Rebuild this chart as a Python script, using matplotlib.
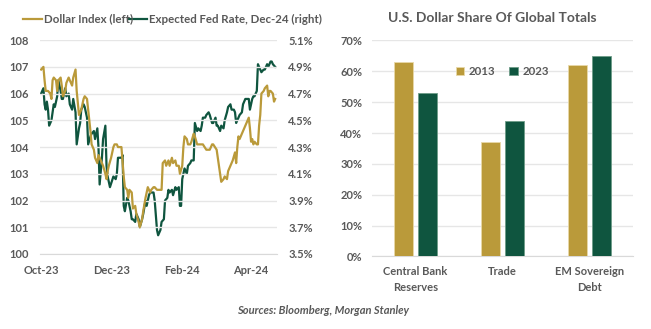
import numpy as np
import pandas as pd
import matplotlib
matplotlib.use("Agg")
import matplotlib.pyplot as plt
import matplotlib.dates as mdates
from matplotlib.ticker import FuncFormatter, MultipleLocator

plt.rcParams['font.family'] = ['Lato', 'DejaVu Sans']

GOLD = '#BA9A3A'
GREEN = '#0F553F'
GRAY = '#595959'
GRID = '#E6E6E6'

# Dollar Index (left axis), days since 2023-10-01
dxy_days = [0, 2, 3, 4, 6, 8, 9, 10, 11, 13, 14, 15, 17, 18, 19, 21, 22, 24, 25, 27,
            28, 30, 31, 33, 34, 35, 37, 38, 40, 41, 43, 44, 46, 47, 49, 50, 52, 54, 56, 57,
            58, 59, 61, 63, 64, 66, 67, 69, 70, 72, 73, 75, 76, 77, 79, 80, 82, 83, 85, 86,
            88, 89, 91, 92, 93, 95, 96, 98, 99, 101, 102, 104, 105, 106, 108, 109, 111, 112, 114, 115,
            117, 118, 120, 121, 123, 124, 125, 127, 128, 130, 131, 133, 134, 136, 138, 141, 144, 147, 149, 150,
            153, 154, 156, 157, 159, 160, 162, 163, 165, 166, 167, 169, 170, 171, 172, 173, 175, 176, 178, 179,
            181, 182, 183, 184, 185, 186, 188, 189, 190, 191, 192, 194, 195, 197, 198, 199, 200, 202, 203, 204]
dxy = [106.9, 107.0, 106.5, 106.1, 106.1, 106.0, 105.8, 106.5, 106.6, 106.5, 106.1, 106.5, 106.6, 106.3, 105.9, 106.1, 106.4, 106.6, 106.5, 106.3,
       106.6, 106.9, 106.1, 105.2, 105.3, 105.4, 105.8, 105.9, 105.8, 105.4, 104.6, 104.1, 103.9, 103.6, 103.4, 103.7, 103.5, 103.3, 103.0, 102.8,
       103.1, 103.3, 103.6, 104.0, 104.1, 104.1, 104.0, 104.0, 104.0, 102.9, 102.5, 102.4, 102.1, 102.4, 102.3, 101.7, 101.8, 101.5, 101.2, 101.0,
       101.3, 101.6, 102.1, 102.3, 102.5, 102.3, 102.4, 102.5, 102.5, 102.4, 102.4, 102.4, 102.4, 103.4, 103.5, 103.3, 103.5, 103.3, 103.6, 103.4,
       103.5, 103.3, 103.3, 103.0, 103.3, 104.0, 104.4, 104.3, 104.1, 104.1, 104.2, 104.5, 104.4, 104.1, 104.1, 104.1, 103.9, 103.9, 104.1, 104.1,
       103.9, 103.6, 103.0, 102.7, 102.8, 102.9, 102.8, 103.1, 103.3, 103.4, 103.5, 103.8, 103.4, 104.0, 104.4, 104.3, 104.5, 104.6, 104.8, 104.9,
       105.1, 104.7, 104.2, 104.3, 104.1, 104.2, 104.1, 104.1, 104.8, 105.2, 106.0, 106.1, 106.2, 106.3, 105.9, 106.1, 106.1, 106.0, 105.7, 105.8]

# Expected Fed rate for Dec-24 (right axis, %), days since 2023-10-01
fed_days = [0, 2, 3, 4, 5, 6, 7, 9, 11, 12, 14, 15, 17, 18, 19, 21, 22, 24, 25, 27,
            28, 30, 31, 33, 34, 35, 37, 38, 40, 41, 43, 44, 46, 47, 49, 50, 51, 53, 54, 56,
            57, 58, 60, 63, 65, 66, 67, 70, 71, 72, 73, 75, 76, 78, 79, 80, 82, 83, 85, 86,
            88, 89, 91, 92, 94, 95, 96, 98, 99, 101, 102, 104, 105, 107, 108, 110, 111, 112, 114, 115,
            117, 118, 120, 121, 122, 123, 124, 125, 127, 128, 130, 131, 133, 134, 136, 137, 139, 140, 141, 143,
            144, 146, 147, 149, 150, 152, 153, 154, 156, 157, 159, 160, 162, 163, 165, 166, 168, 169, 170, 172,
            173, 175, 176, 178, 179, 181, 182, 184, 185, 186, 188, 189, 190, 192, 194, 195, 197, 198, 200, 201,
            202, 204]
fed = [4.70, 4.74, 4.62, 4.58, 4.64, 4.58, 4.46, 4.50, 4.62, 4.60, 4.68, 4.80, 4.72, 4.66, 4.66, 4.74, 4.68, 4.70, 4.62, 4.58,
       4.66, 4.56, 4.32, 4.44, 4.48, 4.58, 4.62, 4.60, 4.52, 4.32, 4.38, 4.40, 4.42, 4.36, 4.44, 4.30, 4.02, 4.22, 4.36, 4.46,
       4.16, 4.08, 4.00, 4.08, 4.06, 4.10, 4.22, 4.22, 4.24, 3.86, 3.82, 3.92, 3.90, 3.82, 3.76, 3.76, 3.74, 3.80, 3.76, 3.70,
       3.76, 3.80, 3.90, 3.86, 3.94, 3.96, 3.96, 3.96, 3.90, 3.68, 3.64, 3.68, 3.74, 3.76, 3.90, 3.92, 3.98, 3.96, 3.98, 3.94,
       4.00, 3.98, 4.00, 3.86, 3.86, 4.06, 4.10, 4.14, 4.10, 4.16, 4.18, 4.20, 4.20, 4.48, 4.42, 4.44, 4.42, 4.46, 4.52, 4.52,
       4.54, 4.56, 4.54, 4.48, 4.48, 4.52, 4.46, 4.46, 4.42, 4.46, 4.44, 4.50, 4.56, 4.60, 4.62, 4.58, 4.58, 4.56, 4.48, 4.52,
       4.54, 4.56, 4.62, 4.66, 4.66, 4.66, 4.58, 4.66, 4.68, 4.68, 4.72, 4.92, 4.90, 4.86, 4.88, 4.88, 4.92, 4.90, 4.94, 4.94,
       4.92, 4.90]

# Bar chart data
categories = ['Central Bank\nReserves', 'Trade', 'EM Sovereign\nDebt']
share_2013 = [63, 37, 62]
share_2023 = [53, 44, 65]

start = pd.Timestamp('2023-10-01')
dxy_dates = start + pd.to_timedelta(dxy_days, unit='D')
fed_dates = start + pd.to_timedelta(fed_days, unit='D')

fig = plt.figure(figsize=(6.51, 3.29), dpi=100)

# ---- left: line chart with two axes
ax = fig.add_axes([0.0614, 0.228, 0.3641, 0.650])
ax2 = ax.twinx()
ax.plot(dxy_dates, dxy, color=GOLD, lw=1.6, zorder=3)
ax2.plot(fed_dates, fed, color=GREEN, lw=1.6, zorder=3)
ax.set_zorder(ax2.get_zorder() + 1)
ax.patch.set_visible(False)

ax.set_ylim(100, 108)
ax2.set_ylim(3.5, 5.1)
ax.yaxis.set_major_locator(MultipleLocator(1))
ax2.set_yticks(np.arange(3.5, 5.11, 0.2))
ax2.yaxis.set_major_formatter(FuncFormatter(lambda v, p: f'{v:.1f}%'))
ax.set_xlim(start - pd.Timedelta(days=1), start + pd.Timedelta(days=205.6))
ax.xaxis.set_major_locator(mdates.MonthLocator(bymonth=[10, 12, 2, 4]))
ax.xaxis.set_major_formatter(mdates.DateFormatter('%b-%y'))
ax.grid(axis='y', color=GRID, lw=1)
for a in (ax, ax2):
    for s in a.spines.values():
        s.set_visible(False)
    a.tick_params(length=0, labelsize=8, labelcolor=GRAY)
    for lab in a.get_xticklabels() + a.get_yticklabels():
        lab.set_fontweight('bold')
ax.spines['bottom'].set_visible(True)
ax.spines['bottom'].set_color('#D9D9D9')
ax.tick_params(axis='y', pad=8)
ax.tick_params(axis='x', pad=8)
ax2.tick_params(axis='y', pad=8)

# legend at top of the line chart
ly = 1 - 19 / 329
fig.lines.append(plt.Line2D([23 / 651, 42 / 651], [ly, ly], color=GOLD, lw=1.6, transform=fig.transFigure))
fig.text(44 / 651, ly, 'Dollar Index (left)', color=GRAY, fontsize=8.3, fontweight='bold', va='center')
fig.lines.append(plt.Line2D([128 / 651, 147 / 651], [ly, ly], color=GREEN, lw=1.6, transform=fig.transFigure))
fig.text(149 / 651, ly, 'Expected Fed Rate, Dec-24 (right)', color=GRAY, fontsize=8.3, fontweight='bold', va='center')

# ---- right: bar chart
bx = fig.add_axes([0.5714, 0.2204, 0.4009, 0.6566])
x = np.arange(len(categories))
bx.bar(x - 0.14, share_2013, width=0.22, color=GOLD, edgecolor='#E8D9A8', lw=0.6, label='2013', zorder=3)
bx.bar(x + 0.14, share_2023, width=0.22, color=GREEN, edgecolor='#6E9C88', lw=0.6, label='2023', zorder=3)
bx.set_xlim(-0.5, 2.5)
bx.set_ylim(0, 70)
bx.yaxis.set_major_locator(MultipleLocator(10))
bx.yaxis.set_major_formatter(FuncFormatter(lambda v, p: f'{v:.0f}%'))
bx.set_xticks(x)
bx.set_xticklabels(categories, linespacing=1.5)
bx.grid(axis='y', color=GRID, lw=1, zorder=0)
for s in bx.spines.values():
    s.set_visible(False)
bx.spines['bottom'].set_visible(True)
bx.spines['bottom'].set_color('#D9D9D9')
bx.tick_params(length=0, labelsize=8, labelcolor=GRAY)
bx.tick_params(axis='y', pad=7)
bx.tick_params(axis='x', pad=7)
for lab in bx.get_xticklabels() + bx.get_yticklabels():
    lab.set_fontweight('bold')
leg = bx.legend(loc='upper center', bbox_to_anchor=(0.5, 0.93), ncol=2, frameon=False,
                handlelength=0.7, handleheight=0.7, handletextpad=0.4, columnspacing=1.2,
                prop={'size': 8.3, 'weight': 'bold'})
for t in leg.get_texts():
    t.set_color(GRAY)

fig.text(492 / 651, 1 - 18 / 329, 'U.S. Dollar Share Of Global Totals', color=GRAY, fontsize=10,
         fontweight='bold', ha='center', va='center')
fig.text(323 / 651, 1 - 311 / 329, 'Sources: Bloomberg, Morgan Stanley', color=GRAY, fontsize=8,
         fontweight='bold', style='italic', ha='center', va='center')

fig.savefig('out.png', dpi=100)
